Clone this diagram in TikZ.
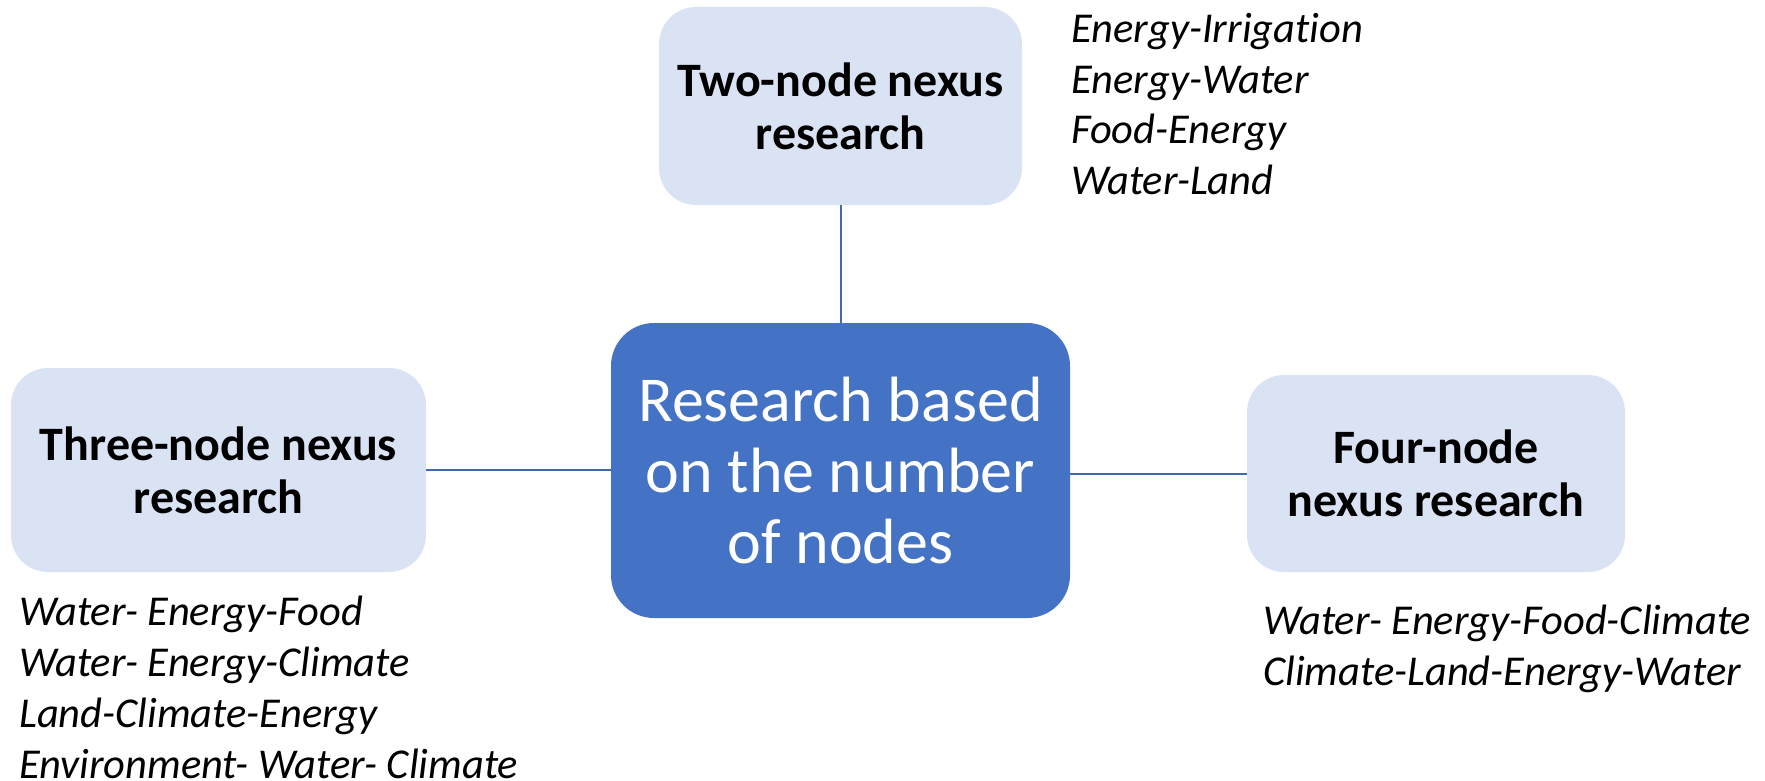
\documentclass[tikz,border=0pt]{standalone}
\usepackage{fontspec}
\setmainfont[Ligatures=NoCommon]{Carlito}
\definecolor{centerblue}{HTML}{4472C4}
\definecolor{lightblue}{HTML}{DAE3F3}
\definecolor{linkblue}{HTML}{3F68B5}
\begin{document}
\begin{tikzpicture}[x=1pt,y=-1pt,
  hub/.style={fill=centerblue, draw=none, rounded corners=43pt, text=white,
    minimum width=459pt, minimum height=295pt, align=center, inner sep=0pt,
    font=\fontsize{64}{71}\selectfont},
  leaf/.style={fill=lightblue, draw=none, rounded corners=37pt,
    align=center, inner sep=0pt, font=\fontsize{48}{53}\selectfont\bfseries},
  item/.style={anchor=base west, inner sep=0pt, font=\fontsize{42.5}{50}\selectfont\itshape},
  link/.style={draw=linkblue, line width=2pt}]
\useasboundingbox (0,0) rectangle (1765,781);
\node[hub] (hub) at (840.5,470.5) {Research based\\on the number\\of nodes};
\node[leaf, minimum width=363pt, minimum height=198pt] (two) at (840.5,106) {Two-node nexus\\research};
\node[leaf, minimum width=415pt, minimum height=204pt] (three) at (218.5,470) {Three-node nexus\\research};
\node[leaf, minimum width=378pt, minimum height=197pt] (four) at (1436,473.5) {Four-node\\nexus research};
\draw[link] (two.south) -- (hub.north);
\draw[link] (three.east) -- (three.east -| hub.west);
\draw[link] (four.west) -- (four.west -| hub.east);
\node[item] (t1) at (1071,43) {Energy-Irrigation};
\node[item] (t2) at (1071,93.5) {Energy-Water};
\node[item] (t3) at (1071,144) {Food-Energy};
\node[item] (t4) at (1071,194.5) {Water-Land};
\node[item] (l1) at (19,625) {Water- Energy-Food};
\node[item] (l2) at (19,676) {Water- Energy-Climate};
\node[item] (l3) at (19,727) {Land-Climate-Energy};
\node[item] (l4) at (19,778) {Environment- Water- Climate};
\node[item] (r1) at (1263,634) {Water- Energy-Food-Climate};
\node[item] (r2) at (1263,685) {Climate-Land-Energy-Water};
\end{tikzpicture}
\end{document}
